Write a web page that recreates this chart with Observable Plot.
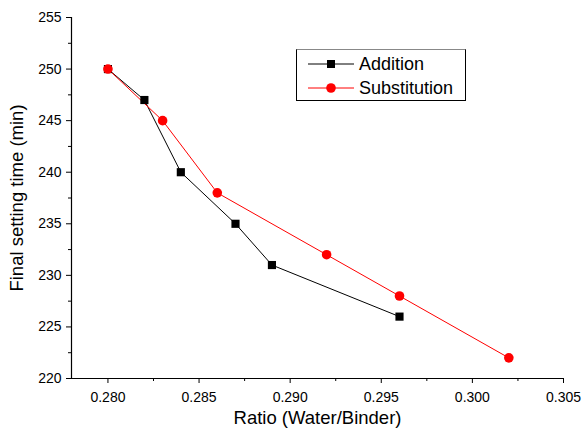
<!DOCTYPE html>
<html>
<head>
<meta charset="utf-8">
<script src="https://cdn.jsdelivr.net/npm/d3@7"></script>
<script src="https://cdn.jsdelivr.net/npm/@observablehq/plot@0.6"></script>
<style>
  body { margin: 0; background: #fff; font-family: "Liberation Sans", Arial, sans-serif; }
  #wrap { position: relative; width: 584px; height: 435px; }
  .legend { position: absolute; left: 296px; top: 49px; width: 170px; height: 52px; border: 1px solid #000; border-top-color: #888; background: #fff; box-sizing: border-box; font-size: 18px; color: #000; }
  .row { position: absolute; left: 0; height: 20px; display: flex; align-items: center; white-space: nowrap; }
  .row svg { margin-left: 11px; flex: none; }
  .row span { margin-left: 5px; }
</style>
</head>
<body>
<div id="wrap"></div>
<script>
const additionRatio = [0.280, 0.282, 0.284, 0.287, 0.289, 0.296];
const additionTime  = [250, 247, 240, 235, 231, 226];
const substitutionRatio = [0.280, 0.283, 0.286, 0.292, 0.296, 0.302];
const substitutionTime  = [250, 245, 238, 232, 228, 222];
const xTicks = [0.280, 0.285, 0.290, 0.295, 0.300, 0.305];
const xMinor = [0.2825, 0.2875, 0.2925, 0.2975, 0.3025];
const yTicks = [220, 225, 230, 235, 240, 245, 250, 255];
const yMinor = [222.5, 227.5, 232.5, 237.5, 242.5, 247.5, 252.5];
const xDomain = [0.278, 0.305];
const yDomain = [220, 255];

const addition = additionRatio.map((r, i) => ({ratio: r, time: additionTime[i]}));
const substitution = substitutionRatio.map((r, i) => ({ratio: r, time: substitutionTime[i]}));

const chart = Plot.plot({
  width: 584,
  height: 435,
  marginLeft: 71,
  marginRight: 21,
  marginTop: 17,
  marginBottom: 57,
  style: {fontFamily: '"Liberation Sans", Arial, sans-serif', fontSize: "14px", color: "#000", background: "#fff"},
  x: {domain: xDomain},
  y: {domain: yDomain},
  marks: [
    Plot.axisX({ticks: xTicks, tickSize: 5, tickFormat: d3.format(".3f"), fontSize: 14, tickPadding: 9, label: null}),
    Plot.axisX({ticks: xMinor, tickSize: 3, text: null, label: null}),
    Plot.axisY({ticks: yTicks, tickSize: 5, tickFormat: d3.format("d"), fontSize: 14, tickPadding: 5, label: null}),
    Plot.axisY({ticks: yMinor, tickSize: 3, text: null, label: null}),
    Plot.ruleY([yDomain[0]], {stroke: "#000", strokeWidth: 1.2}),
    Plot.ruleX([xDomain[0]], {stroke: "#000", strokeWidth: 1.2}),
    Plot.line(addition, {x: "ratio", y: "time", stroke: "#000", strokeWidth: 1}),
    Plot.line(substitution, {x: "ratio", y: "time", stroke: "#ff0000", strokeWidth: 1}),
    Plot.dot(addition, {x: "ratio", y: "time", symbol: "square", r: 4.6, fill: "#000", stroke: "none"}),
    Plot.dot(substitution, {x: "ratio", y: "time", symbol: "circle", r: 4.8, fill: "#ff0000", stroke: "none"}),
    Plot.text(["Ratio (Water/Binder)"], {frameAnchor: "bottom", dy: 45, fontSize: 18.5, text: d => d}),
    Plot.text(["Final setting time (min)"], {frameAnchor: "left", dx: -54, rotate: -90, textAnchor: "middle", fontSize: 18.5, text: d => d})
  ]
});
const wrap = document.getElementById("wrap");
wrap.appendChild(chart);

const legend = document.createElement("div");
legend.className = "legend";
legend.innerHTML = `
  <div class="row" style="top:4px"><svg width="46" height="12"><line x1="0" y1="6" x2="46" y2="6" stroke="#000" stroke-width="1"/><rect x="19" y="2" width="8" height="8" fill="#000"/></svg><span>Addition</span></div>
  <div class="row" style="top:28px"><svg width="46" height="12"><line x1="0" y1="6" x2="46" y2="6" stroke="#ff0000" stroke-width="1"/><circle cx="23" cy="6" r="4.8" fill="#ff0000"/></svg><span>Substitution</span></div>`;
wrap.appendChild(legend);
</script>
</body>
</html>
